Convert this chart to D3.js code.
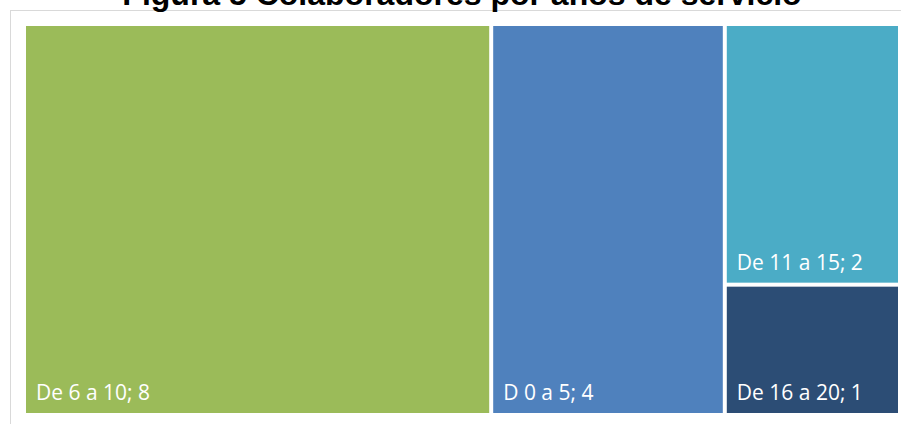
<!DOCTYPE html>
<html>
<head>
<meta charset="utf-8">
<script src="https://cdn.jsdelivr.net/npm/d3@7"></script>
<style>
  html, body { margin: 0; padding: 0; background: #ffffff; overflow: hidden; }
  svg { display: block; }
</style>
</head>
<body>
<svg id="chart" width="901" height="424"></svg>
<script>
const title = "Figura 5 Colaboradores por años de servicio";
const categories = ["De 6 a 10", "D 0 a 5", "De 11 a 15", "De 16 a 20"];
const values = [8, 4, 2, 1];
const colors = ["#9BBB59", "#4F81BD", "#4BACC6", "#2C4D75"];

const svg = d3.select("#chart");
const W = 901, H = 424;

// outer chart frame (cut off on right/bottom in the reference)
svg.append("rect")
  .attr("x", 10.5).attr("y", 10.5)
  .attr("width", 900).attr("height", 430)
  .attr("fill", "#ffffff")
  .attr("stroke", "#d9d9d9").attr("stroke-width", 1);

// title (partially cut off at top, as in the reference)
svg.append("text")
  .attr("x", 462).attr("y", 5)
  .attr("text-anchor", "middle")
  .attr("font-family", "'Liberation Sans', Arial, sans-serif")
  .attr("font-weight", "bold")
  .attr("font-size", 32)
  .attr("fill", "#000000")
  .text(title);

const rootData = {
  name: "root",
  children: categories.map((c, i) => ({ name: c, value: values[i], color: colors[i] }))
};

const root = d3.hierarchy(rootData)
  .sum(d => d.value || 0)
  .sort((a, b) => b.value - a.value);

const pad = 2;
d3.treemap()
  .tile(d3.treemapSquarify.ratio(1))
  .size([876, 391])
  (root);

const g = svg.append("g").attr("transform", "translate(24,24)");

const leaves = g.selectAll("g.leaf")
  .data(root.leaves())
  .join("g").attr("class", "leaf");

leaves.append("rect")
  .attr("x", d => d.x0 + pad)
  .attr("y", d => d.y0 + pad)
  .attr("width", d => d.x1 - d.x0 - 2 * pad)
  .attr("height", d => d.y1 - d.y0 - 2 * pad)
  .attr("fill", d => d.data.color);

leaves.append("text")
  .attr("x", d => d.x0 + pad + 10)
  .attr("y", d => d.y1 - pad - 13)
  .attr("font-family", "'Open Sans', 'Noto Sans', sans-serif")
  .attr("font-size", 21)
  .attr("fill", "#ffffff")
  .text(d => d.data.name + "; " + d.data.value);
</script>
</body>
</html>
